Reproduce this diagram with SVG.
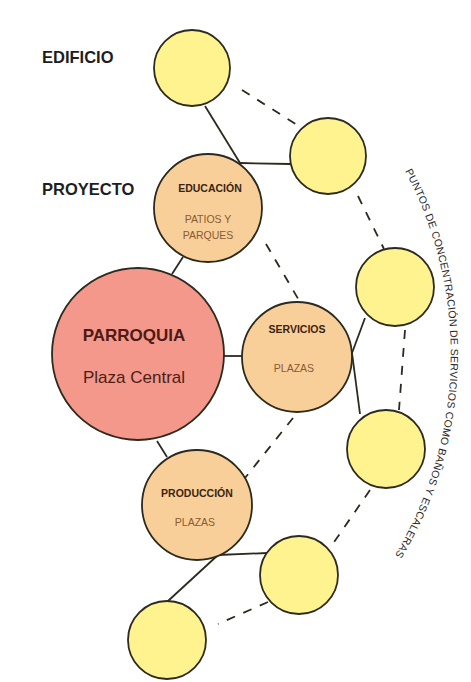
<svg xmlns="http://www.w3.org/2000/svg" width="471" height="682" viewBox="0 0 471 682">
<defs>
<style>
.y{fill:#fef38f;stroke:#2c2a1e;stroke-width:1.8}
.o{fill:#f8cf99;stroke:#2c2a1e;stroke-width:1.8}
.p{fill:#f3988b;stroke:#2c2a1e;stroke-width:1.8}
.s{stroke:#2c2a1e;stroke-width:1.8;fill:none}
.d{stroke:#2c2a1e;stroke-width:1.8;fill:none;stroke-dasharray:9 9}
text{font-family:"Liberation Sans",Arial,sans-serif;text-anchor:middle}
.lbl{font-weight:bold;font-size:16.5px;fill:#1e1e1e;text-anchor:start}
.h{font-weight:bold;font-size:10.5px;fill:#3a2412}
.t{font-size:10.5px;fill:#8a5a32}
.arc{font-size:10.5px;fill:#2a2a2a;text-anchor:start}
</style>
<path id="arcp" d="M 405 171 A 390 390 0 0 1 392 560"/>
</defs>
<rect width="471" height="682" fill="#ffffff"/>
<g id="connectors">
<line class="s" x1="205" y1="106" x2="240" y2="163"/>
<line class="s" x1="240" y1="163" x2="290" y2="164"/>
<line class="s" x1="183" y1="257" x2="172" y2="274"/>
<line class="s" x1="224" y1="356" x2="242" y2="356"/>
<line class="s" x1="352" y1="353" x2="365" y2="318"/>
<line class="s" x1="352" y1="353" x2="360" y2="414"/>
<line class="s" x1="157" y1="441" x2="167" y2="457"/>
<line class="s" x1="218" y1="555" x2="267" y2="553"/>
<line class="s" x1="218" y1="555" x2="168" y2="601"/>
<line class="d" x1="242" y1="90" x2="302" y2="128"/>
<line class="d" x1="358" y1="196" x2="384" y2="249"/>
<line class="d" x1="266" y1="244" x2="300" y2="302"/>
<line class="d" x1="405" y1="330" x2="399" y2="410"/>
<line class="d" x1="293" y1="418" x2="245" y2="478"/>
<line class="d" x1="370" y1="490" x2="330" y2="548"/>
<line class="d" x1="268" y1="602" x2="218" y2="624"/>
</g>
<g id="labels">
<text class="lbl" x="42" y="63">EDIFICIO</text>
<text class="lbl" x="42" y="195">PROYECTO</text>
</g>
<g id="edificio1"><circle class="y" cx="192" cy="68" r="38"/></g>
<g id="edificio2"><circle class="y" cx="328" cy="156" r="38"/></g>
<g id="edificio3"><circle class="y" cx="395" cy="287" r="39"/></g>
<g id="edificio4"><circle class="y" cx="386" cy="449" r="39"/></g>
<g id="edificio5"><circle class="y" cx="299" cy="575" r="39"/></g>
<g id="edificio6"><circle class="y" cx="167" cy="640" r="39"/></g>
<g id="educacion">
<circle class="o" cx="208" cy="208" r="54"/>
<text class="h" x="210" y="192">EDUCACIÓN</text>
<text class="t" x="208" y="223">PATIOS Y</text>
<text class="t" x="208" y="239">PARQUES</text>
</g>
<g id="parroquia">
<circle class="p" cx="138" cy="354" r="86"/>
<text x="134" y="341" style="font-weight:bold;font-size:17px;fill:#4e1a14">PARROQUIA</text>
<text x="134" y="383" style="font-size:17px;fill:#4e1e16">Plaza Central</text>
</g>
<g id="servicios">
<circle class="o" cx="297" cy="357" r="55"/>
<text class="h" x="297" y="333">SERVICIOS</text>
<text class="t" x="294" y="372">PLAZAS</text>
</g>
<g id="produccion">
<circle class="o" cx="197" cy="505" r="55"/>
<text class="h" x="197" y="497">PRODUCCIÓN</text>
<text class="t" x="195" y="526">PLAZAS</text>
</g>
<g id="arc-label">
<text class="arc"><textPath href="#arcp" textLength="402" lengthAdjust="spacing">PUNTOS DE CONCENTRACIÓN DE SERVICIOS COMO BAÑOS Y ESCALERAS</textPath></text>
</g>
</svg>
